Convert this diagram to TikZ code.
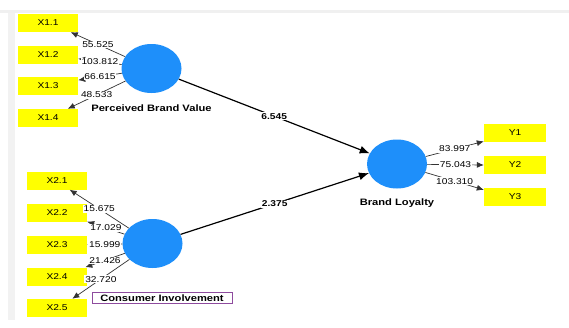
\documentclass[tikz,border=0pt]{standalone}
\usepackage{fontspec}
\setmainfont{Liberation Sans}
\newfontfamily\plsfont[FakeStretch=1.2]{Liberation Sans}
\usepackage{tikz}
\usetikzlibrary{positioning,arrows.meta,shapes.geometric}
\definecolor{LVBlue}{HTML}{1E8FFA}
\definecolor{MVYellow}{HTML}{FFFF00}
\definecolor{TagPurple}{HTML}{8E4B9E}

\tikzset{
  latent/.style={ellipse, fill=LVBlue, inner sep=0pt, minimum width=60pt, minimum height=49pt},
  manifest/.style={rectangle, fill=MVYellow, inner sep=0pt, minimum width=60pt, minimum height=18pt, font=\plsfont\fontsize{8.5}{10}\selectfont},
  lvname/.style={font=\plsfont\bfseries\fontsize{9.3}{11}\selectfont},
  loading/.style={draw=black!80, line width=0.7pt, -{Latex[length=7pt,width=6pt]}},
  coef/.style={draw=black, line width=1.2pt, -{Latex[length=10pt,width=8pt]}},
  ldval/.style={fill=white, inner sep=0.8pt, font=\plsfont\fontsize{8.5}{10}\selectfont},
  coefval/.style={fill=white, inner sep=1pt, font=\plsfont\bfseries\fontsize{8.5}{10}\selectfont}
}

\begin{document}
\begin{tikzpicture}[x=1pt, y=-1pt]
  % canvas and faint frame strips
  \fill[white] (0,0) rectangle (569,327);
  \useasboundingbox (0,0) rectangle (569,327);
  \fill[black!6] (0,10) rectangle (569,13);
  \fill[black!5] (8,13) rectangle (15,320);

  % latent variables
  \node[latent] (pbv) at (151.5,68.5) {};
  \node[latent] (ci) at (152.5,243.5) {};
  \node[latent] (bl) at (397,164) {};
  \node[lvname, below=8pt of pbv] (pbvname) {Perceived Brand Value};
  \node[lvname, below=7pt of bl] (blname) {Brand Loyalty};
  \node[lvname, draw=TagPurple, line width=0.8pt, fill=white, inner sep=2pt, minimum width=140pt] (ciname) at (162,298) {Consumer Involvement};

  % indicators
  \node[manifest] (x11) at (48,23) {X1.1};
  \node[manifest] (x12) at (48,54.5) {X1.2};
  \node[manifest] (x13) at (48,86) {X1.3};
  \node[manifest] (x14) at (48,118) {X1.4};
  \node[manifest] (x21) at (57,180.5) {X2.1};
  \node[manifest] (x22) at (57,213) {X2.2};
  \node[manifest] (x23) at (57,244.5) {X2.3};
  \node[manifest] (x24) at (57,276.5) {X2.4};
  \node[manifest] (x25) at (57,308) {X2.5};
  \node[manifest, minimum width=62pt] (y1) at (515,133) {Y1};
  \node[manifest, minimum width=62pt] (y2) at (515,165) {Y2};
  \node[manifest, minimum width=62pt] (y3) at (515,197) {Y3};

  % outer loadings
  \draw[loading] (pbv) -- (x11.-22) node[ldval, midway] {55.525};
  \draw[loading] (pbv) -- (x12.-8) node[ldval, midway] {103.812};
  \draw[loading] (pbv) -- (x13.11) node[ldval, midway] {66.615};
  \draw[loading] (pbv) -- (x14.25) node[ldval, midway] {48.533};
  \draw[loading] (ci) -- (x21.-36) node[ldval, midway] {15.675};
  \draw[loading] (ci) -- (x22.-16) node[ldval, midway] {17.029};
  \draw[loading] (ci) -- (x23.east) node[ldval, midway] {15.999};
  \draw[loading] (ci) -- (x24.18) node[ldval, midway] {21.426};
  \draw[loading] (ci) -- (x25.31) node[ldval, midway] {32.720};
  \draw[loading] (bl) -- (y1.195) node[ldval, midway] {83.997};
  \draw[loading] (bl) -- (y2.west) node[ldval, midway] {75.043};
  \draw[loading] (bl) -- (y3.167) node[ldval, midway] {103.310};

  % inner model
  \draw[coef] (pbv) -- (bl) node[coefval, midway] {6.545};
  \draw[coef] (ci) -- (bl) node[coefval, midway] {2.375};
\end{tikzpicture}
\end{document}
